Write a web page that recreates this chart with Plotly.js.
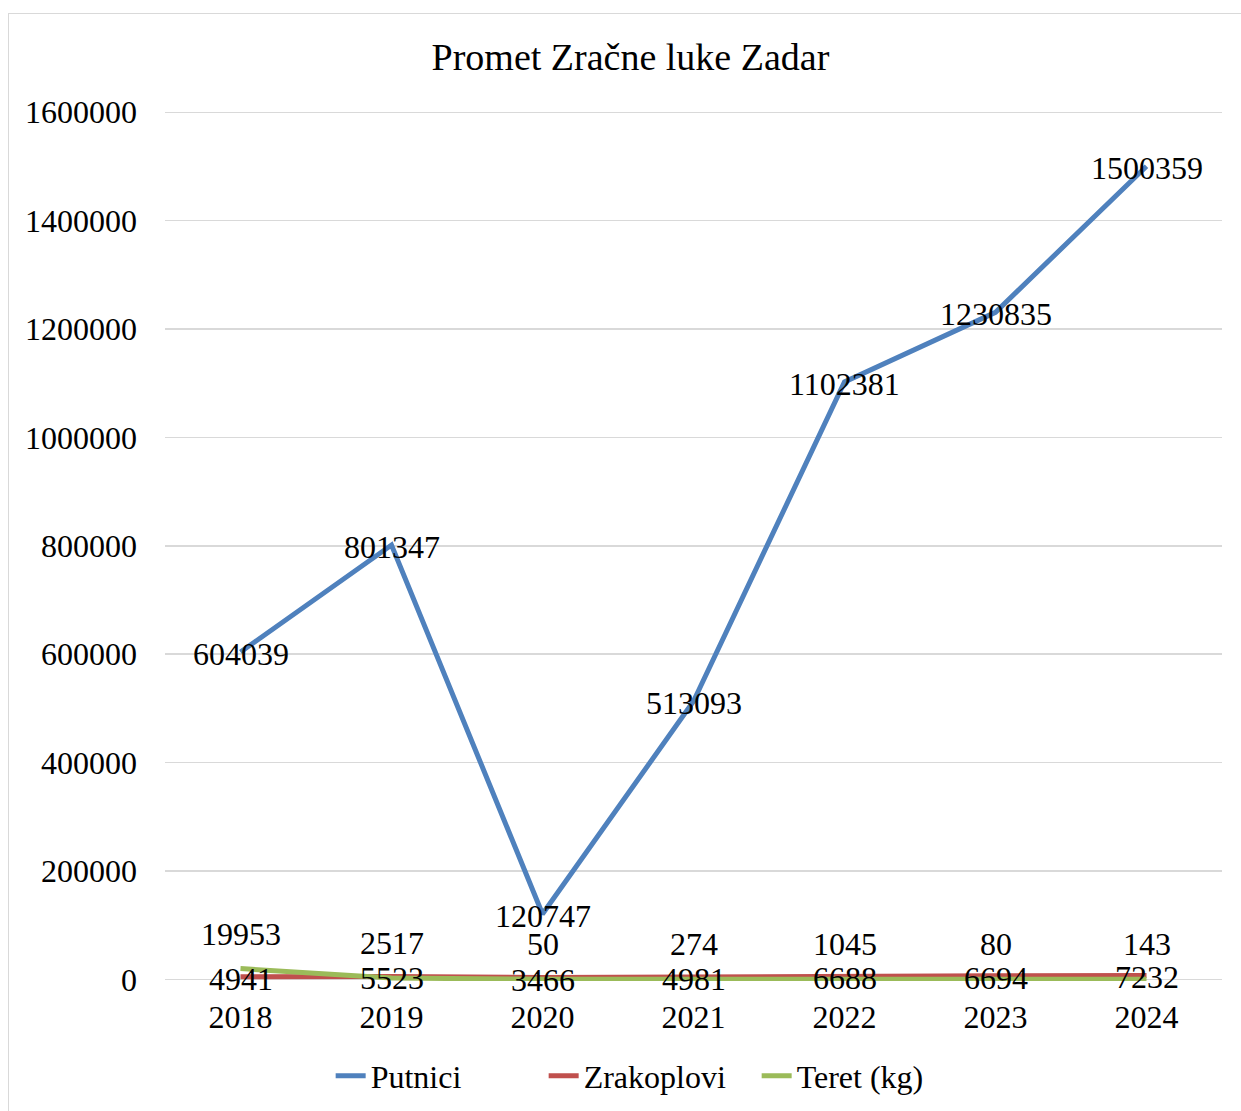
<!DOCTYPE html>
<html>
<head>
<meta charset="utf-8">
<script src="https://cdn.plot.ly/plotly-3.0.1.min.js"></script>
<style>
html,body{margin:0;padding:0;background:#fff;}
#chart{position:absolute;left:0;top:0;width:1241px;height:1111px;}
#frame{position:absolute;left:8px;top:13px;width:1240px;height:1105px;border:1.5px solid #D9D9D9;pointer-events:none;}
</style>
</head>
<body>
<div id="chart"></div>
<div id="frame"></div>
<script>
const years = ['2018','2019','2020','2021','2022','2023','2024'];
const putnici = [604039, 801347, 120747, 513093, 1102381, 1230835, 1500359];
const zrakoplovi = [4941, 5523, 3466, 4981, 6688, 6694, 7232];
const teret = [19953, 2517, 50, 274, 1045, 80, 143];
const yTicks = [0, 200000, 400000, 600000, 800000, 1000000, 1200000, 1400000, 1600000];

const FONT = 'Liberation Serif, Times New Roman, serif';
const FS = 32;
const txtFont = {family: FONT, size: FS, color: '#000'};

const traces = [
  {x: years, y: putnici, name: 'Putnici', mode: 'lines', type: 'scatter',
   line: {color: '#4F81BD', width: 5}},
  {x: years, y: zrakoplovi, name: 'Zrakoplovi', mode: 'lines', type: 'scatter',
   line: {color: '#C0504D', width: 5}},
  {x: years, y: teret, name: 'Teret (kg)', mode: 'lines', type: 'scatter',
   line: {color: '#9BBB59', width: 5}}
];

// annotation x uses the category index (category strings look numeric)
function labels(vals, shift) {
  return vals.map((v, i) => ({
    x: i, y: v, xref: 'x', yref: 'y', text: String(v), showarrow: false,
    xanchor: 'center', yanchor: 'middle', yshift: shift, font: {family: FONT, size: FS, color: '#000'}
  }));
}
const annotations = [].concat(labels(putnici, -2), labels(zrakoplovi, -2), labels(teret, 35));

const layout = {
  width: 1241, height: 1111,
  margin: {l: 165, r: 19, t: 109, b: 130, autoexpand: false},
  paper_bgcolor: '#fff', plot_bgcolor: '#fff',
  font: {family: FONT, size: FS, color: '#000'},
  title: {text: 'Promet Zračne luke Zadar', font: {family: FONT, size: 38, color: '#000'},
          x: 0.508, xref: 'container', xanchor: 'center', y: 1 - 57/1111, yref: 'container', yanchor: 'middle'},
  xaxis: {type: 'category', range: [-0.5, 6.5], showgrid: false, showline: false, zeroline: false,
          ticks: '', tickfont: txtFont, ticklabelstandoff: 14, fixedrange: true, automargin: false},
  yaxis: {range: [-3000, 1606000], tickvals: yTicks, ticktext: yTicks.map(String), showgrid: true,
          gridcolor: '#D9D9D9', gridwidth: 1.5, zeroline: false, showline: false, ticks: '',
          tickfont: txtFont, ticklabelstandoff: 27, fixedrange: true, automargin: false},
  showlegend: true,
  legend: {orientation: 'h', x: 0.459, xanchor: 'center', y: (979 - 1074) / 872, yanchor: 'middle',
           font: txtFont, entrywidth: 168, entrywidthmode: 'pixels'},
  annotations: annotations
};

Plotly.newPlot('chart', traces, layout, {displayModeBar: false, staticPlot: true});
</script>
</body>
</html>
